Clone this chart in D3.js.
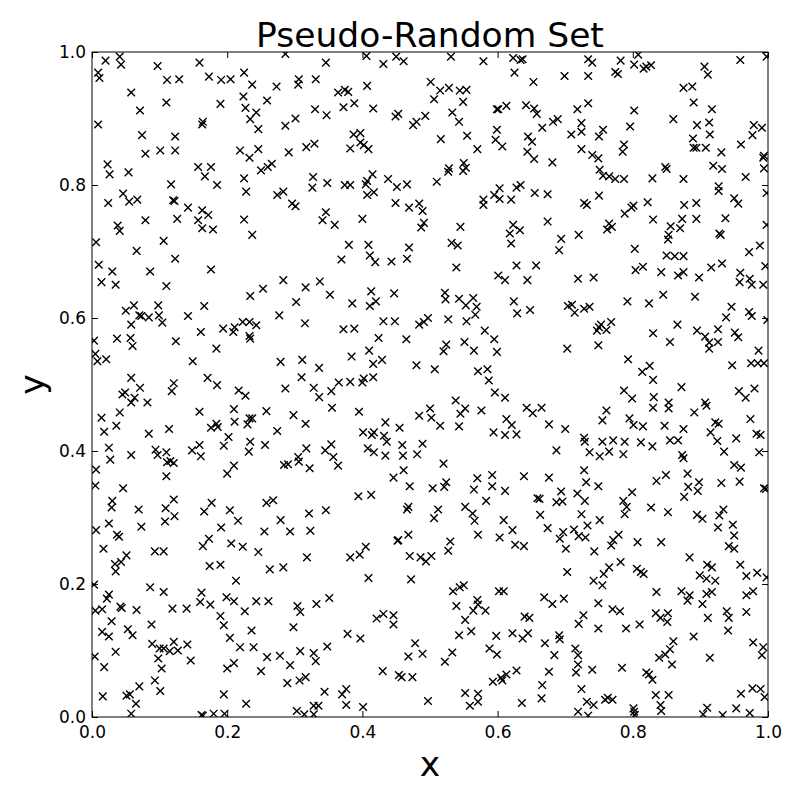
<!DOCTYPE html>
<html>
<head>
<meta charset="utf-8">
<script src="https://cdn.jsdelivr.net/npm/d3@7"></script>
<style>
  body { margin: 0; background: #fff; }
  svg { display: block; }
  text { font-family: "DejaVu Sans", sans-serif; fill: #000; }
</style>
</head>
<body>
<div id="container"></div>
<script>
// Chart text and ticks
const title = "Pseudo-Random Set";
const xLabel = "x";
const yLabel = "y";
const xTicks = [0, 0.2, 0.4, 0.6, 0.8, 1.0];
const yTicks = [0, 0.2, 0.4, 0.6, 0.8, 1.0];

// Points, [x, y]
const points = [
  // upper left
  [0.020,0.987],[0.041,0.993],[0.043,0.981],[0.097,0.979],[0.159,0.984],[0.286,0.997],[0.009,0.969],[0.011,0.961],
  [0.111,0.958],[0.129,0.959],[0.173,0.963],[0.191,0.958],[0.205,0.959],[0.225,0.969],[0.237,0.951],[0.273,0.948],
  [0.306,0.959],[0.305,0.951],[0.331,0.959],[0.058,0.939],[0.110,0.924],[0.190,0.922],[0.224,0.933],[0.259,0.927],
  [0.071,0.912],[0.227,0.916],[0.243,0.909],[0.330,0.914],[0.009,0.891],[0.164,0.895],[0.163,0.891],[0.234,0.899],
  [0.246,0.884],[0.286,0.889],[0.301,0.900],[0.074,0.875],[0.123,0.873],[0.079,0.847],[0.101,0.852],[0.123,0.852],
  [0.219,0.852],[0.233,0.841],[0.246,0.854],[0.291,0.849],[0.317,0.857],[0.329,0.862],[0.023,0.831],[0.026,0.816],
  [0.054,0.819],[0.157,0.827],[0.176,0.827],[0.167,0.813],[0.225,0.810],[0.185,0.800],[0.250,0.822],[0.260,0.827],
  [0.266,0.832],[0.327,0.812],[0.326,0.796],[0.117,0.801],[0.228,0.790],[0.046,0.787],[0.055,0.775],[0.067,0.778],
  [0.024,0.773],[0.120,0.777],[0.122,0.776],[0.274,0.785],[0.283,0.790],[0.296,0.772],[0.301,0.768],[0.142,0.766],
  [0.163,0.762],[0.172,0.755],
  // upper middle
  [0.346,0.984],[0.406,0.994],[0.431,0.982],[0.450,0.993],[0.461,0.986],[0.531,0.993],[0.579,0.986],[0.623,0.991],
  [0.634,0.988],[0.637,0.989],[0.625,0.969],[0.653,0.955],[0.364,0.939],[0.374,0.943],[0.379,0.940],[0.407,0.949],
  [0.501,0.955],[0.515,0.942],[0.528,0.946],[0.544,0.942],[0.554,0.943],[0.506,0.929],[0.549,0.925],[0.347,0.905],
  [0.372,0.917],[0.388,0.923],[0.416,0.915],[0.449,0.903],[0.453,0.907],[0.475,0.890],[0.480,0.895],[0.493,0.904],
  [0.533,0.909],[0.543,0.895],[0.599,0.914],[0.601,0.914],[0.613,0.919],[0.642,0.920],[0.654,0.915],[0.658,0.907],
  [0.666,0.886],[0.599,0.883],[0.597,0.868],[0.607,0.858],[0.645,0.873],[0.651,0.865],[0.644,0.850],[0.654,0.839],
  [0.387,0.876],[0.397,0.878],[0.382,0.855],[0.397,0.864],[0.402,0.860],[0.409,0.854],[0.516,0.869],[0.555,0.874],
  [0.570,0.854],[0.528,0.825],[0.527,0.820],[0.550,0.833],[0.553,0.826],[0.549,0.821],[0.510,0.805],[0.348,0.803],
  [0.374,0.800],[0.382,0.800],[0.405,0.801],[0.407,0.806],[0.415,0.816],[0.407,0.785],[0.417,0.789],[0.438,0.809],
  [0.451,0.797],[0.466,0.801],[0.449,0.773],[0.469,0.766],[0.484,0.772],[0.489,0.761],[0.346,0.759],[0.579,0.778],
  [0.579,0.770],[0.595,0.785],[0.603,0.795],[0.603,0.779],[0.620,0.778],[0.628,0.796],[0.634,0.800],[0.655,0.788],
  // upper right
  [0.734,0.989],[0.740,0.984],[0.782,0.987],[0.802,0.981],[0.808,0.996],[0.816,0.975],[0.820,0.978],[0.827,0.980],
  [0.699,0.964],[0.734,0.964],[0.774,0.970],[0.778,0.967],[0.906,0.978],[0.911,0.966],[0.959,0.988],[0.998,0.993],
  [0.875,0.946],[0.888,0.948],[0.718,0.914],[0.734,0.923],[0.802,0.912],[0.890,0.924],[0.917,0.914],[0.682,0.895],
  [0.689,0.899],[0.709,0.876],[0.724,0.893],[0.724,0.880],[0.750,0.873],[0.756,0.883],[0.796,0.888],[0.860,0.899],
  [0.895,0.890],[0.913,0.894],[0.914,0.876],[0.889,0.870],[0.979,0.890],[0.991,0.886],[0.977,0.875],[0.787,0.861],
  [0.785,0.850],[0.724,0.854],[0.740,0.845],[0.749,0.840],[0.890,0.856],[0.894,0.856],[0.908,0.856],[0.931,0.849],
  [0.960,0.861],[0.994,0.844],[0.993,0.841],[0.681,0.834],[0.751,0.823],[0.756,0.814],[0.765,0.813],[0.774,0.809],
  [0.787,0.809],[0.829,0.810],[0.848,0.827],[0.850,0.824],[0.875,0.809],[0.919,0.829],[0.932,0.824],[0.967,0.812],
  [0.994,0.825],[0.927,0.798],[0.927,0.791],[0.674,0.786],[0.728,0.773],[0.732,0.770],[0.750,0.784],[0.798,0.766],
  [0.801,0.769],[0.788,0.757],[0.822,0.774],[0.876,0.770],[0.894,0.773],[0.950,0.780],[0.956,0.772],[0.998,0.788],
  // middle left, upper band
  [0.038,0.739],[0.041,0.731],[0.079,0.747],[0.126,0.749],[0.157,0.747],[0.163,0.735],[0.179,0.733],[0.225,0.748],
  [0.237,0.725],[0.006,0.714],[0.066,0.701],[0.106,0.716],[0.123,0.689],[0.010,0.680],[0.030,0.670],[0.086,0.670],
  [0.176,0.673],[0.014,0.654],[0.035,0.650],[0.110,0.648],[0.253,0.644],[0.283,0.657],[0.316,0.646],[0.234,0.633],
  [0.302,0.624],[0.050,0.611],[0.062,0.619],[0.070,0.604],[0.073,0.603],[0.084,0.601],[0.098,0.619],[0.099,0.604],
  [0.104,0.593],[0.142,0.603],[0.166,0.618],[0.277,0.604],[0.058,0.590],[0.223,0.594],[0.233,0.594],[0.243,0.589],
  [0.194,0.584],[0.211,0.586],[0.209,0.579],[0.315,0.592],[0.003,0.566],[0.037,0.569],[0.057,0.570],[0.060,0.558],
  [0.124,0.565],[0.161,0.579],[0.233,0.573],[0.234,0.569],[0.184,0.554],[0.005,0.546],[0.008,0.535],[0.021,0.538],
  [0.149,0.535],[0.279,0.534],[0.311,0.537],[0.058,0.510],[0.171,0.510],[0.310,0.511],[0.121,0.502],[0.185,0.499],
  // centre, upper band
  [0.341,0.747],[0.359,0.740],[0.400,0.749],[0.487,0.736],[0.491,0.743],[0.545,0.737],[0.623,0.740],[0.618,0.727],
  [0.633,0.732],[0.620,0.712],[0.380,0.710],[0.409,0.710],[0.469,0.706],[0.532,0.713],[0.541,0.709],[0.369,0.688],
  [0.411,0.694],[0.419,0.684],[0.443,0.685],[0.466,0.689],[0.539,0.676],[0.628,0.679],[0.657,0.679],[0.601,0.664],
  [0.611,0.657],[0.644,0.657],[0.337,0.655],[0.352,0.635],[0.385,0.622],[0.413,0.640],[0.420,0.625],[0.411,0.618],
  [0.447,0.637],[0.522,0.638],[0.523,0.628],[0.543,0.629],[0.553,0.619],[0.564,0.630],[0.569,0.617],[0.567,0.605],
  [0.624,0.625],[0.629,0.607],[0.648,0.612],[0.431,0.595],[0.448,0.595],[0.372,0.583],[0.388,0.584],[0.484,0.590],
  [0.491,0.594],[0.497,0.600],[0.527,0.598],[0.554,0.595],[0.581,0.581],[0.595,0.568],[0.599,0.549],[0.424,0.570],
  [0.465,0.568],[0.410,0.551],[0.384,0.542],[0.416,0.531],[0.429,0.537],[0.520,0.550],[0.524,0.560],[0.551,0.564],
  [0.565,0.551],[0.336,0.525],[0.480,0.529],[0.507,0.523],[0.571,0.520],[0.585,0.523],[0.587,0.506],[0.365,0.503],
  [0.382,0.504],[0.400,0.503],[0.402,0.509],[0.416,0.511],
  // middle right, upper band
  [0.674,0.745],[0.830,0.748],[0.873,0.749],[0.894,0.749],[0.937,0.750],[0.765,0.742],[0.762,0.733],[0.769,0.737],
  [0.856,0.738],[0.870,0.735],[0.853,0.725],[0.852,0.718],[0.928,0.727],[0.930,0.725],[0.998,0.740],[0.694,0.719],
  [0.720,0.725],[0.691,0.702],[0.803,0.704],[0.850,0.694],[0.862,0.693],[0.875,0.693],[0.972,0.699],[0.988,0.709],
  [0.804,0.672],[0.815,0.677],[0.842,0.669],[0.867,0.664],[0.875,0.669],[0.898,0.661],[0.916,0.676],[0.932,0.682],
  [0.959,0.668],[0.958,0.654],[0.973,0.659],[0.976,0.650],[0.993,0.650],[0.996,0.678],[0.719,0.659],[0.742,0.661],
  [0.792,0.625],[0.824,0.622],[0.845,0.635],[0.892,0.632],[0.704,0.618],[0.710,0.620],[0.714,0.608],[0.728,0.614],
  [0.736,0.617],[0.946,0.617],[0.938,0.601],[0.972,0.609],[0.976,0.603],[0.999,0.597],[0.750,0.586],[0.753,0.590],
  [0.747,0.581],[0.761,0.582],[0.768,0.594],[0.866,0.590],[0.830,0.577],[0.855,0.564],[0.895,0.581],[0.907,0.572],
  [0.913,0.563],[0.913,0.554],[0.926,0.564],[0.926,0.583],[0.951,0.578],[0.956,0.571],[0.703,0.554],[0.749,0.559],
  [0.986,0.551],[0.793,0.538],[0.825,0.528],[0.814,0.519],[0.830,0.507],[0.947,0.529],[0.975,0.532],[0.985,0.532],
  [0.994,0.532],
  // lower-middle left
  [0.071,0.495],[0.118,0.490],[0.217,0.491],[0.227,0.483],[0.286,0.494],[0.328,0.495],[0.045,0.485],[0.049,0.488],
  [0.063,0.480],[0.058,0.473],[0.082,0.473],[0.014,0.450],[0.041,0.458],[0.036,0.438],[0.018,0.429],[0.159,0.459],
  [0.210,0.463],[0.258,0.460],[0.298,0.454],[0.316,0.441],[0.084,0.426],[0.114,0.433],[0.176,0.435],[0.184,0.441],
  [0.186,0.436],[0.211,0.444],[0.230,0.440],[0.233,0.449],[0.237,0.449],[0.274,0.430],[0.025,0.405],[0.027,0.387],
  [0.058,0.394],[0.094,0.402],[0.097,0.394],[0.110,0.398],[0.111,0.383],[0.116,0.385],[0.121,0.382],[0.148,0.401],
  [0.159,0.409],[0.161,0.392],[0.195,0.408],[0.202,0.421],[0.234,0.414],[0.232,0.399],[0.256,0.409],[0.284,0.379],
  [0.290,0.380],[0.305,0.391],[0.306,0.384],[0.317,0.404],[0.322,0.374],[0.006,0.372],[0.005,0.348],[0.110,0.362],
  [0.046,0.344],[0.200,0.366],[0.210,0.378],[0.030,0.325],[0.029,0.315],[0.069,0.312],[0.109,0.314],[0.121,0.327],
  [0.122,0.302],[0.108,0.294],[0.166,0.309],[0.177,0.322],[0.204,0.311],[0.216,0.295],[0.258,0.322],[0.268,0.326],
  [0.279,0.296],[0.321,0.306],[0.025,0.291],[0.073,0.286],[0.006,0.281],[0.037,0.274],[0.040,0.271],[0.191,0.285],
  [0.255,0.279],[0.293,0.279],[0.323,0.280],[0.173,0.268],[0.164,0.257],[0.206,0.261],[0.223,0.256],[0.017,0.253],
  [0.093,0.249],[0.106,0.249],[0.246,0.248],
  // lower-middle centre
  [0.336,0.481],[0.354,0.490],[0.355,0.465],[0.395,0.459],[0.596,0.488],[0.611,0.480],[0.538,0.476],[0.500,0.464],
  [0.502,0.450],[0.484,0.453],[0.515,0.438],[0.552,0.464],[0.545,0.456],[0.543,0.437],[0.576,0.461],[0.643,0.465],
  [0.652,0.457],[0.665,0.465],[0.613,0.448],[0.621,0.439],[0.594,0.428],[0.611,0.424],[0.628,0.425],[0.401,0.428],
  [0.417,0.428],[0.414,0.424],[0.434,0.443],[0.432,0.423],[0.436,0.414],[0.455,0.435],[0.354,0.410],[0.345,0.401],
  [0.357,0.391],[0.364,0.378],[0.408,0.404],[0.417,0.398],[0.434,0.393],[0.459,0.409],[0.460,0.393],[0.489,0.411],
  [0.481,0.395],[0.520,0.381],[0.461,0.371],[0.446,0.360],[0.470,0.347],[0.504,0.344],[0.521,0.346],[0.524,0.353],
  [0.570,0.359],[0.565,0.342],[0.592,0.364],[0.592,0.347],[0.611,0.340],[0.639,0.362],[0.583,0.325],[0.394,0.332],
  [0.413,0.334],[0.346,0.311],[0.468,0.316],[0.466,0.312],[0.512,0.312],[0.506,0.299],[0.552,0.316],[0.563,0.306],
  [0.566,0.295],[0.609,0.296],[0.622,0.281],[0.659,0.329],[0.662,0.328],[0.663,0.304],[0.468,0.274],[0.452,0.265],
  [0.453,0.266],[0.571,0.274],[0.603,0.270],[0.626,0.259],[0.639,0.257],[0.530,0.264],[0.527,0.250],[0.405,0.256],
  // lower-middle right
  [0.787,0.491],[0.799,0.479],[0.831,0.481],[0.830,0.465],[0.853,0.473],[0.853,0.464],[0.872,0.496],[0.891,0.458],
  [0.907,0.473],[0.909,0.468],[0.957,0.490],[0.967,0.480],[0.980,0.494],[0.676,0.440],[0.700,0.433],[0.761,0.461],
  [0.755,0.446],[0.795,0.449],[0.801,0.439],[0.815,0.437],[0.847,0.438],[0.875,0.433],[0.915,0.428],[0.922,0.443],
  [0.927,0.441],[0.925,0.415],[0.953,0.419],[0.974,0.448],[0.983,0.426],[0.989,0.424],[0.728,0.420],[0.729,0.414],
  [0.755,0.414],[0.771,0.416],[0.788,0.414],[0.812,0.413],[0.829,0.407],[0.855,0.416],[0.867,0.416],[0.687,0.401],
  [0.736,0.398],[0.751,0.392],[0.765,0.399],[0.786,0.395],[0.873,0.394],[0.875,0.389],[0.935,0.399],[0.987,0.398],
  [0.676,0.360],[0.728,0.371],[0.731,0.353],[0.749,0.347],[0.799,0.338],[0.835,0.355],[0.849,0.364],[0.881,0.366],
  [0.882,0.346],[0.898,0.353],[0.896,0.340],[0.876,0.331],[0.931,0.352],[0.950,0.379],[0.960,0.375],[0.958,0.354],
  [0.994,0.344],[0.997,0.343],[0.694,0.339],[0.687,0.323],[0.696,0.324],[0.718,0.336],[0.729,0.325],[0.724,0.305],
  [0.786,0.325],[0.791,0.316],[0.788,0.305],[0.827,0.315],[0.852,0.308],[0.895,0.304],[0.903,0.298],[0.928,0.303],
  [0.934,0.312],[0.926,0.285],[0.948,0.289],[0.950,0.273],[0.674,0.284],[0.713,0.282],[0.692,0.268],[0.697,0.278],
  [0.720,0.272],[0.730,0.270],[0.733,0.288],[0.751,0.296],[0.771,0.266],[0.768,0.258],[0.779,0.274],[0.807,0.263],
  [0.842,0.263],[0.701,0.253],[0.743,0.249],[0.942,0.257],[0.950,0.253],
  // bottom left
  [0.051,0.243],[0.034,0.230],[0.043,0.233],[0.035,0.219],[0.174,0.227],[0.190,0.229],[0.263,0.222],[0.283,0.225],
  [0.318,0.240],[0.003,0.199],[0.086,0.195],[0.106,0.188],[0.213,0.205],[0.025,0.184],[0.022,0.178],[0.162,0.187],
  [0.160,0.173],[0.175,0.169],[0.199,0.180],[0.210,0.174],[0.243,0.174],[0.261,0.174],[0.304,0.167],[0.308,0.158],
  [0.005,0.160],[0.015,0.162],[0.042,0.166],[0.044,0.164],[0.066,0.161],[0.119,0.163],[0.140,0.163],[0.226,0.159],
  [0.190,0.152],[0.029,0.144],[0.088,0.139],[0.195,0.138],[0.298,0.135],[0.015,0.128],[0.025,0.121],[0.053,0.132],
  [0.060,0.123],[0.236,0.130],[0.089,0.110],[0.100,0.103],[0.106,0.103],[0.121,0.113],[0.127,0.100],[0.115,0.099],
  [0.141,0.109],[0.204,0.119],[0.219,0.105],[0.239,0.105],[0.035,0.098],[0.004,0.091],[0.098,0.088],[0.146,0.085],
  [0.259,0.090],[0.278,0.092],[0.308,0.099],[0.328,0.096],[0.331,0.084],[0.018,0.075],[0.103,0.073],[0.200,0.073],
  [0.210,0.081],[0.250,0.069],[0.293,0.078],[0.093,0.055],[0.101,0.039],[0.070,0.046],[0.289,0.051],[0.307,0.055],
  [0.316,0.060],[0.016,0.031],[0.051,0.032],[0.056,0.034],[0.065,0.020],[0.195,0.034],[0.228,0.020],[0.058,0.005],
  [0.162,0.003],[0.164,0.002],[0.180,0.005],[0.196,0.005],[0.303,0.009],[0.314,0.004],[0.328,0.004],[0.328,0.017],
  // bottom centre
  [0.382,0.240],[0.396,0.244],[0.470,0.242],[0.486,0.240],[0.494,0.234],[0.502,0.242],[0.332,0.170],[0.351,0.179],
  [0.409,0.209],[0.472,0.207],[0.534,0.189],[0.544,0.195],[0.550,0.198],[0.570,0.176],[0.571,0.169],[0.564,0.160],
  [0.582,0.160],[0.539,0.167],[0.552,0.146],[0.602,0.189],[0.609,0.189],[0.669,0.180],[0.421,0.148],[0.431,0.155],
  [0.446,0.153],[0.446,0.139],[0.378,0.125],[0.397,0.118],[0.348,0.106],[0.478,0.111],[0.468,0.091],[0.489,0.095],
  [0.522,0.083],[0.533,0.097],[0.543,0.123],[0.561,0.129],[0.598,0.122],[0.588,0.103],[0.599,0.094],[0.622,0.126],
  [0.637,0.118],[0.645,0.126],[0.640,0.151],[0.647,0.149],[0.670,0.111],[0.430,0.069],[0.454,0.063],[0.458,0.060],
  [0.474,0.060],[0.593,0.053],[0.605,0.059],[0.613,0.064],[0.628,0.070],[0.607,0.055],[0.344,0.038],[0.370,0.034],
  [0.376,0.042],[0.376,0.018],[0.335,0.017],[0.401,0.015],[0.497,0.024],[0.552,0.036],[0.571,0.035],[0.559,0.017],
  [0.571,0.023],[0.636,0.021],[0.666,0.048],[0.665,0.028],
  // bottom right
  [0.884,0.240],[0.782,0.233],[0.910,0.229],[0.917,0.225],[0.959,0.229],[0.703,0.218],[0.757,0.215],[0.765,0.225],
  [0.742,0.205],[0.755,0.198],[0.806,0.223],[0.812,0.218],[0.816,0.215],[0.899,0.213],[0.909,0.208],[0.922,0.205],
  [0.968,0.212],[0.984,0.217],[0.998,0.210],[0.835,0.188],[0.872,0.189],[0.884,0.183],[0.881,0.175],[0.909,0.185],
  [0.917,0.188],[0.903,0.170],[0.968,0.183],[0.978,0.189],[0.681,0.170],[0.698,0.178],[0.749,0.171],[0.770,0.162],
  [0.781,0.159],[0.834,0.156],[0.841,0.149],[0.852,0.156],[0.851,0.143],[0.939,0.159],[0.942,0.149],[0.968,0.158],
  [0.727,0.153],[0.720,0.140],[0.749,0.133],[0.790,0.133],[0.810,0.139],[0.911,0.149],[0.941,0.130],[0.691,0.123],
  [0.692,0.117],[0.715,0.103],[0.719,0.093],[0.684,0.093],[0.860,0.114],[0.855,0.102],[0.848,0.094],[0.839,0.089],
  [0.858,0.079],[0.890,0.121],[0.914,0.089],[0.978,0.112],[0.993,0.105],[0.991,0.093],[0.676,0.068],[0.719,0.079],
  [0.716,0.067],[0.740,0.071],[0.784,0.074],[0.820,0.067],[0.824,0.064],[0.829,0.056],[0.724,0.042],[0.732,0.023],
  [0.742,0.018],[0.759,0.026],[0.763,0.029],[0.770,0.026],[0.801,0.013],[0.802,0.008],[0.803,0.003],[0.834,0.033],
  [0.853,0.033],[0.841,0.018],[0.842,0.009],[0.719,0.008],[0.734,0.002],[0.904,0.004],[0.910,0.014],[0.933,0.003],
  [0.953,0.013],[0.960,0.035],[0.973,0.006],[0.977,0.043],[0.989,0.042],[0.995,0.030]
];

// Figure layout (matplotlib classic look)
const width = 800;
const height = 800;
const marginTop = 52;
const marginRight = 32;
const marginBottom = 83;
const marginLeft = 92;
const tickLen = 6;

const x = d3.scaleLinear().domain([0, 1]).range([marginLeft, width - marginRight]);
const y = d3.scaleLinear().domain([0, 1]).range([height - marginBottom, marginTop]);

const svg = d3.create("svg").attr("width", width).attr("height", height);
document.getElementById("container").appendChild(svg.node());

svg.append("rect").attr("width", width).attr("height", height).attr("fill", "#fff");

svg.append("clipPath").attr("id", "plot-clip")
  .append("rect")
  .attr("x", x(0)).attr("y", y(1))
  .attr("width", x(1) - x(0)).attr("height", y(0) - y(1));

// markers
const marker = "M-3.8,-3.8L3.8,3.8M-3.8,3.8L3.8,-3.8";
svg.append("g")
  .attr("clip-path", "url(#plot-clip)")
  .selectAll("path")
  .data(points)
  .join("path")
  .attr("transform", d => `translate(${x(d[0])},${y(d[1])})`)
  .attr("d", marker)
  .attr("fill", "none")
  .attr("stroke", "#000")
  .attr("stroke-width", 1.4);

const fmt = d3.format(".1f");
const styleAxis = g => {
  g.select(".domain").remove();
  g.selectAll(".tick line").attr("stroke", "#000").attr("stroke-width", 1);
  g.selectAll(".tick text").attr("font-size", 17).attr("font-family", "DejaVu Sans, sans-serif").attr("fill", "#000");
};

// ticks point inward on all four sides
svg.append("g")
  .attr("transform", `translate(0,${y(0)})`)
  .call(d3.axisBottom(x).tickValues(xTicks).tickFormat(fmt).tickSize(-tickLen).tickPadding(9))
  .call(styleAxis);
svg.append("g")
  .attr("transform", `translate(0,${y(1)})`)
  .call(d3.axisTop(x).tickValues(xTicks).tickFormat("").tickSize(-tickLen))
  .call(styleAxis);
svg.append("g")
  .attr("transform", `translate(${x(0)},0)`)
  .call(d3.axisLeft(y).tickValues(yTicks).tickFormat(fmt).tickSize(-tickLen).tickPadding(6))
  .call(styleAxis);
svg.append("g")
  .attr("transform", `translate(${x(1)},0)`)
  .call(d3.axisRight(y).tickValues(yTicks).tickFormat("").tickSize(-tickLen))
  .call(styleAxis);

// frame
svg.append("rect")
  .attr("x", x(0)).attr("y", y(1))
  .attr("width", x(1) - x(0)).attr("height", y(0) - y(1))
  .attr("fill", "none").attr("stroke", "#000").attr("stroke-width", 1);

svg.append("text")
  .attr("x", (x(0) + x(1)) / 2).attr("y", 47)
  .attr("text-anchor", "middle")
  .attr("font-size", 34.5)
  .text(title);

svg.append("text")
  .attr("x", (x(0) + x(1)) / 2).attr("y", 776)
  .attr("text-anchor", "middle")
  .attr("font-size", 34.5)
  .text(xLabel);

svg.append("text")
  .attr("transform", `translate(44,${(y(0) + y(1)) / 2}) rotate(-90)`)
  .attr("text-anchor", "middle")
  .attr("font-size", 34.5)
  .text(yLabel);
</script>
</body>
</html>
